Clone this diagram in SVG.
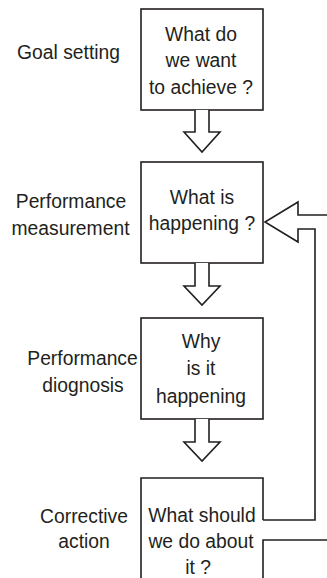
<svg xmlns="http://www.w3.org/2000/svg" width="327" height="578" viewBox="0 0 327 578">
<style>
text{font-family:"Liberation Sans",Arial,sans-serif;font-size:21px;fill:#231f20;text-anchor:middle}
.b{fill:#fff;stroke:#231f20;stroke-width:1.6}
.c{fill:#fff;stroke:#231f20;stroke-width:1.6;stroke-linejoin:miter}
.o{fill:none;stroke:#231f20;stroke-width:1.6}
</style>
<rect width="327" height="578" fill="#fff"/>
<g id="node-goal">
<rect class="b" x="141" y="9" width="122" height="101"/>
<text transform="translate(201,41) scale(0.92,1)">What do</text>
<text transform="translate(201,67) scale(0.92,1)">we want</text>
<text transform="translate(201,94) scale(0.92,1)">to achieve ?</text>
<text transform="translate(68.5,59) scale(0.92,1)">Goal setting</text>
</g>
<g id="node-measure">
<rect class="b" x="141" y="162" width="122" height="101"/>
<text transform="translate(202,204) scale(0.92,1)">What is</text>
<text transform="translate(202,230) scale(0.92,1)">happening ?</text>
<text transform="translate(71,208) scale(0.92,1)">Performance</text>
<text transform="translate(70.5,235) scale(0.92,1)">measurement</text>
</g>
<g id="node-diagnosis">
<rect class="b" x="141" y="318" width="122" height="101"/>
<text transform="translate(201,348) scale(0.92,1)">Why</text>
<text transform="translate(201,375) scale(0.92,1)">is it</text>
<text transform="translate(201,403) scale(0.92,1)">happening</text>
<text transform="translate(82.5,365) scale(0.92,1)">Performance</text>
<text transform="translate(83,392) scale(0.92,1)">diognosis</text>
</g>
<g id="node-action">
<path class="o" d="M141,590 V478 H263 V520"/>
<text transform="translate(202,522) scale(0.92,1)">What should</text>
<text transform="translate(201,548) scale(0.92,1)">we do about</text>
<text transform="translate(198,574) scale(0.92,1)">it ?</text>
<text transform="translate(84,523) scale(0.92,1)">Corrective</text>
<text transform="translate(84,548) scale(0.92,1)">action</text>
</g>
<g id="connectors">
<path class="c" d="M195,110 V132 H184 L202,152 L220,132 H209 V110"/>
<path class="c" d="M195,263 V286 H184 L202,305 L220,286 H209 V263"/>
<path class="c" d="M195,419 V442 H184 L202,461 L220,442 H209 V419"/>
<path class="o" d="M263,520 H315 V229 H298 V242 L265,222 L298,202 V215 H335"/>
<path class="o" d="M263,590 V540 H335"/>
</g>
</svg>
